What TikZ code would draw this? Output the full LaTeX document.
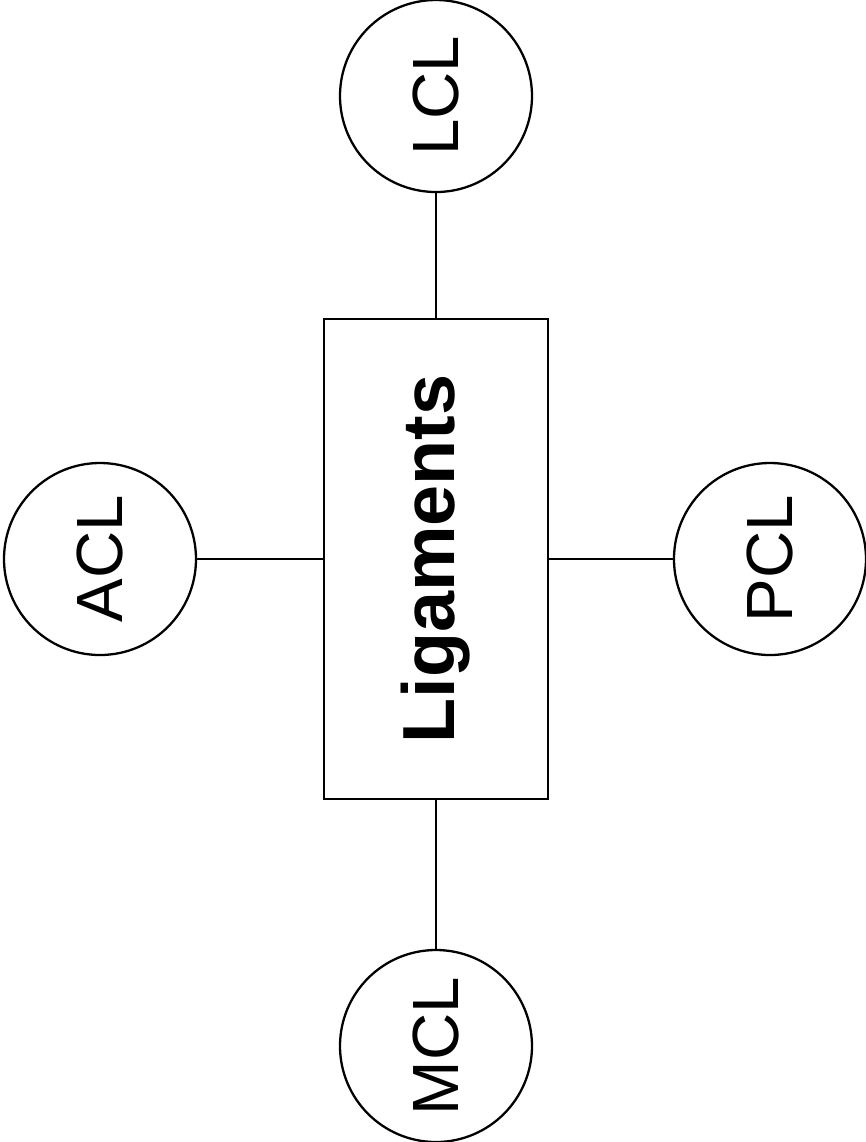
\documentclass[tikz,border=0pt]{standalone}
\usepackage{fontspec}
\setmainfont{Liberation Sans}
\usetikzlibrary{arrows.meta, calc}
\tikzset{
    blk/.style={draw, line width=0.8pt, minimum width=4.8cm, minimum height=2.24cm, inner sep=0pt, rotate=90, font=\fontsize{21}{24}\selectfont\bfseries},
    bub/.style={draw, line width=0.65pt, circle, minimum size=1.92cm, inner sep=0pt, rotate=90, font=\fontsize{18.6}{22}\selectfont},
    lnk/.style={line width=0.65pt}
}
\begin{document}
\begin{tikzpicture}[lnk]
        \useasboundingbox (0,0) rectangle (8.66,-11.42);
        \node[blk] (lig) at (4.36,-5.59) {Ligaments};
        \node[bub] (lcl) at (4.36,-0.96) {LCL};
        \node[bub] (acl) at (1.00,-5.59) {ACL};
        \node[bub] (pcl) at (7.70,-5.59) {PCL};
        \node[bub] (mcl) at (4.36,-10.46) {MCL};

        \draw (lig) -- (lcl);
        \draw (lig) -- (acl);
        \draw (lig) -- (pcl);
        \draw (lig) -- (mcl);
    \end{tikzpicture}
\end{document}
